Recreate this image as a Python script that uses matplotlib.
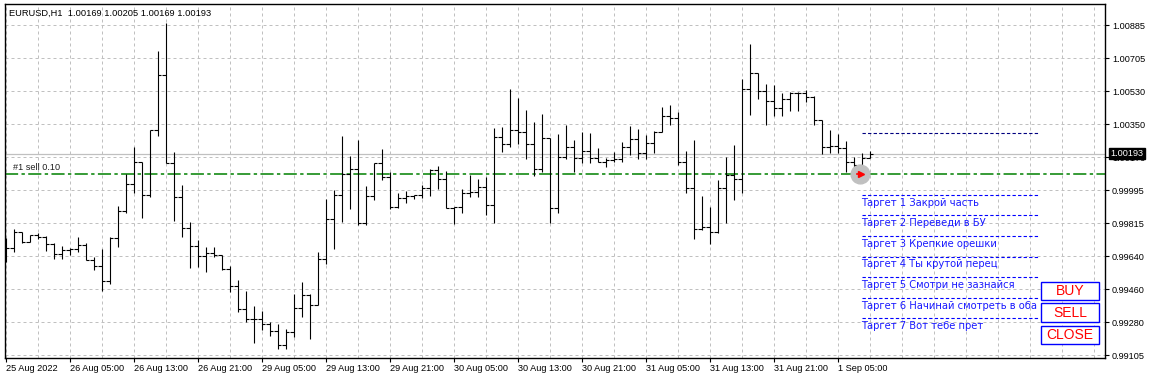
import matplotlib
matplotlib.use('Agg')
import matplotlib.pyplot as plt
from matplotlib.patches import Rectangle

title = 'EURUSD,H1  1.00169 1.00205 1.00169 1.00193'

# hourly bars, 25 Aug 21:00 .. 1 Sep 09:00
opens = [0.99711, 0.99682, 0.99770, 0.99715, 0.99752, 0.99745, 0.99705, 0.99651, 0.99673, 0.99677,
         0.99700, 0.99619, 0.99588, 0.99504, 0.99738, 0.99882, 1.00029, 1.00149, 0.99968, 1.00320,
         1.00617, 1.00141, 0.99961, 0.99790, 0.99695, 0.99641, 0.99655, 0.99646, 0.99569, 0.99479,
         0.99353, 0.99299, 0.99299, 0.99272, 0.99236, 0.99159, 0.99231, 0.99359, 0.99430, 0.99376,
         0.99623, 0.99839, 0.99968, 1.00083, 1.00108, 0.99817, 0.99964, 1.00141, 1.00065, 0.99907,
         0.99952, 0.99966, 0.99968, 1.00006, 1.00105, 1.00054, 0.99901, 0.99903, 0.99979, 0.99987,
         1.00011, 0.99914, 1.00284, 1.00245, 1.00320, 1.00311, 1.00245, 1.00108, 1.00276, 0.99898,
         1.00173, 1.00230, 1.00168, 1.00205, 1.00168, 1.00149, 1.00158, 1.00162, 1.00230, 1.00270,
         1.00195, 1.00248, 1.00311, 1.00396, 1.00383, 1.00149, 1.00006, 0.99785, 0.99797, 0.99772,
         1.00006, 1.00077, 1.00054, 1.00540, 1.00629, 1.00531, 1.00478, 1.00437, 1.00487, 1.00521,
         1.00518, 1.00500, 1.00374, 1.00227, 1.00236, 1.00222, 1.00149, 1.00132, 1.00169]
highs = [0.99736, 0.99785, 0.99770, 0.99754, 0.99763, 0.99748, 0.99709, 0.99696, 0.99685, 0.99742,
         0.99709, 0.99637, 0.99678, 0.99742, 0.99910, 1.00081, 1.00227, 1.00149, 1.00320, 1.00746,
         1.00899, 1.00203, 1.00024, 0.99824, 0.99727, 0.99688, 0.99691, 0.99646, 0.99587, 0.99511,
         0.99452, 0.99371, 0.99344, 0.99286, 0.99274, 0.99245, 0.99434, 0.99499, 0.99436, 0.99661,
         0.99948, 0.99997, 1.00289, 1.00180, 1.00266, 1.00018, 1.00144, 1.00216, 1.00095, 0.99979,
         0.99991, 0.99970, 1.00024, 1.00108, 1.00126, 1.00101, 0.99907, 1.00002, 1.00077, 1.00056,
         1.00065, 1.00329, 1.00335, 1.00540, 1.00491, 1.00428, 1.00362, 1.00407, 1.00276, 1.00299,
         1.00347, 1.00266, 1.00308, 1.00302, 1.00222, 1.00168, 1.00203, 1.00257, 1.00342, 1.00324,
         1.00293, 1.00316, 1.00443, 1.00455, 1.00419, 1.00209, 1.00266, 0.99964, 0.99907, 1.00051,
         1.00176, 1.00239, 1.00594, 1.00784, 1.00629, 1.00568, 1.00563, 1.00521, 1.00527, 1.00524,
         1.00536, 1.00504, 1.00374, 1.00320, 1.00299, 1.00263, 1.00176, 1.00195, 1.00205]
lows = [0.99610, 0.99664, 0.99709, 0.99715, 0.99731, 0.99669, 0.99623, 0.99623, 0.99646, 0.99664,
        0.99619, 0.99565, 0.99453, 0.99490, 0.99688, 0.99874, 0.99979, 0.99847, 0.99957, 1.00288,
        1.00141, 0.99831, 0.99745, 0.99578, 0.99583, 0.99556, 0.99637, 0.99565, 0.99448, 0.99340,
        0.99283, 0.99173, 0.99241, 0.99211, 0.99137, 0.99137, 0.99202, 0.99310, 0.99193, 0.99376,
        0.99596, 0.99678, 0.99826, 0.99893, 0.99808, 0.99808, 0.99943, 1.00051, 0.99893, 0.99898,
        0.99925, 0.99947, 0.99952, 0.99964, 1.00002, 0.99898, 0.99813, 0.99874, 0.99957, 0.99957,
        0.99863, 0.99817, 1.00200, 1.00230, 1.00243, 1.00162, 1.00074, 1.00095, 0.99817, 0.99874,
        1.00162, 1.00095, 1.00144, 1.00144, 1.00149, 1.00122, 1.00149, 1.00149, 1.00185, 1.00162,
        1.00162, 1.00195, 1.00311, 1.00347, 1.00132, 0.99982, 0.99732, 0.99780, 0.99705, 0.99766,
        0.99817, 0.99943, 0.99982, 1.00401, 1.00487, 1.00347, 1.00396, 1.00397, 1.00423, 1.00424,
        1.00473, 1.00347, 1.00191, 1.00195, 1.00198, 1.00095, 1.00083, 1.00083, 1.00169]
closes = [0.99682, 0.99770, 0.99715, 0.99752, 0.99745, 0.99705, 0.99651, 0.99673, 0.99677, 0.99700,
          0.99619, 0.99588, 0.99504, 0.99738, 0.99882, 1.00029, 1.00149, 0.99968, 1.00320, 1.00617,
          1.00141, 0.99961, 0.99790, 0.99695, 0.99641, 0.99655, 0.99646, 0.99569, 0.99479, 0.99353,
          0.99299, 0.99299, 0.99272, 0.99236, 0.99159, 0.99231, 0.99359, 0.99430, 0.99376, 0.99623,
          0.99839, 0.99968, 1.00083, 1.00108, 0.99817, 0.99964, 1.00141, 1.00065, 0.99907, 0.99952,
          0.99966, 0.99968, 1.00006, 1.00105, 1.00054, 0.99901, 0.99903, 0.99979, 0.99987, 1.00011,
          0.99914, 1.00284, 1.00245, 1.00320, 1.00311, 1.00245, 1.00108, 1.00276, 0.99898, 1.00173,
          1.00230, 1.00168, 1.00205, 1.00168, 1.00149, 1.00158, 1.00162, 1.00230, 1.00270, 1.00195,
          1.00248, 1.00311, 1.00396, 1.00383, 1.00149, 1.00006, 0.99785, 0.99797, 0.99772, 1.00006,
          1.00077, 1.00054, 1.00540, 1.00629, 1.00531, 1.00478, 1.00437, 1.00487, 1.00521, 1.00518,
          1.00500, 1.00374, 1.00227, 1.00236, 1.00222, 1.00149, 1.00132, 1.00168, 1.00193]

time_label_bars = [0, 8, 16, 24, 32, 40, 48, 56, 64, 72, 80, 88, 96, 104]
time_labels = ['25 Aug 2022', '26 Aug 05:00', '26 Aug 13:00', '26 Aug 21:00', '29 Aug 05:00',
               '29 Aug 13:00', '29 Aug 21:00', '30 Aug 05:00', '30 Aug 13:00', '30 Aug 21:00',
               '31 Aug 05:00', '31 Aug 13:00', '31 Aug 21:00', '1 Sep 05:00']
price_ticks = [0.99105, 0.99283, 0.99461, 0.99639, 0.99817, 0.99995,
               1.00173, 1.00351, 1.00529, 1.00707, 1.00885]
price_labels = ['0.99105', '0.99280', '0.99460', '0.99640', '0.99815', '0.99995',
                '1.00170', '1.00350', '1.00530', '1.00705', '1.00885']

current_price = 1.00193
order_price = 1.00083
order_label = '#1 sell 0.10'
order_bar = 106.8
upper_level = 1.00302
target_prices = [0.99970, 0.99862, 0.99749, 0.99637, 0.99526, 0.99412, 0.99305]
target_texts = ['Таргет 1 Закрой часть', 'Таргет 2 Переведи в БУ', 'Таргет 3 Крепкие орешки',
                'Таргет 4 Ты крутой перец', 'Таргет 5 Смотри не зазнайся',
                'Таргет 6 Начинай смотреть в оба', 'Таргет 7 Вот тебе прет']
target_start, target_end = 107.0, 129.0
buttons = ['BUY', 'SELL', 'CLOSE']

plt.rcParams['font.family'] = ['Liberation Sans', 'DejaVu Sans']
fs = 6.6
W, H = 1154, 381
fig = plt.figure(figsize=(W / 100, H / 100), dpi=100)
fig.patch.set_facecolor('white')
ax = fig.add_axes([5 / W, 1 - 358 / H, 1100 / W, 354 / H])
# half-pixel shift so 1px bar lines sit on pixel centres
ax.set_xlim(-0.0625, 137.4375)
ax.set_ylim(0.99090, 1.01000)

# grid
ax.set_xticks(time_label_bars)
ax.set_xticklabels(time_labels)
ax.set_xticks(range(4, 138, 4), minor=True)
ax.set_yticks(price_ticks)
ax.set_yticklabels(price_labels)
ax.yaxis.tick_right()
ax.grid(axis='x', which='both', color='#c0c0c0', ls=(0, (3, 3)), lw=0.72)
ax.grid(axis='y', which='major', color='#c0c0c0', ls=(0, (3, 3)), lw=0.72)
ax.set_axisbelow(True)
ax.tick_params(axis='x', which='major', length=3, width=0.8, direction='out', labelsize=fs, pad=1)
ax.tick_params(axis='x', which='minor', length=0)
ax.tick_params(axis='y', length=3, width=0.8, direction='out', labelsize=fs, pad=2)
for lbl in ax.get_xticklabels():
    lbl.set_horizontalalignment('left')
for sp in ax.spines.values():
    sp.set_linewidth(1.0)
    sp.set_color('black')

ax.axhline(current_price, color='#c0c0c0', lw=0.9, zorder=1)
ax.axhline(order_price, color='#008000', lw=1.1, dashes=(8.6, 2.2, 2.2, 2.2), zorder=1.2)

# bars
x = list(range(len(closes)))
ax.vlines(x, lows, highs, color='black', lw=0.8, zorder=2)
ax.hlines(opens, [i - 0.4 for i in x], x, color='black', lw=0.8, zorder=2)
ax.hlines(closes, x, [i + 0.4 for i in x], color='black', lw=0.8, zorder=2)

ax.annotate(order_label, (0.9, order_price), xytext=(0, 1.6), textcoords='offset points',
            fontsize=fs, color='#202020', va='bottom', ha='left')

# order marker
ax.plot([order_bar], [order_price], marker='o', ms=13.5, mfc='#c0c0c0', mec='#c0c0c0', zorder=3)
ax.plot([order_bar + 0.15], [order_price], marker='>', ms=4.5, color='red', zorder=4)
ax.plot([order_bar - 0.35, order_bar], [order_price, order_price], color='red', lw=1.2, zorder=4)

# target lines
ax.hlines([upper_level], target_start, target_end, colors='#000080', lw=0.8, linestyles=(0, (3, 2)))
ax.hlines(target_prices, target_start, target_end, colors='#0000ff', lw=0.8, linestyles=(0, (3, 2)))
for p, t in zip(target_prices, target_texts):
    ax.annotate(t, (target_start, p), xytext=(0, -5.6), textcoords='offset points',
                fontsize=7.2, family='DejaVu Sans', color='#1a1aff', va='center', ha='left')

# current price box
ax.annotate('1.00193', (1, current_price), xycoords=('axes fraction', 'data'),
            xytext=(4, 0), textcoords='offset points', fontsize=fs, color='white',
            va='center', ha='left', zorder=6,
            bbox=dict(boxstyle='square,pad=0.15', fc='black', ec='black'))

# title
fig.text(9 / W, 1 - 13 / H, title, fontsize=6.7, va='center', ha='left', color='black')

# buttons
btn_top = [281.7, 303.3, 325.7]
for name, top in zip(buttons, btn_top):
    r = Rectangle((1040.7 / W, 1 - (top + 18.5) / H), 58.6 / W, 18.5 / H,
                  transform=fig.transFigure, fc='white', ec='#0000ff', lw=1.0, zorder=5)
    fig.add_artist(r)
    fig.text((1040.7 + 29.3) / W, 1 - (top + 9.5) / H, name, fontsize=10, color='#ff0000',
             ha='center', va='center', zorder=6)

fig.savefig('out.png', dpi=100)
plt.close(fig)
